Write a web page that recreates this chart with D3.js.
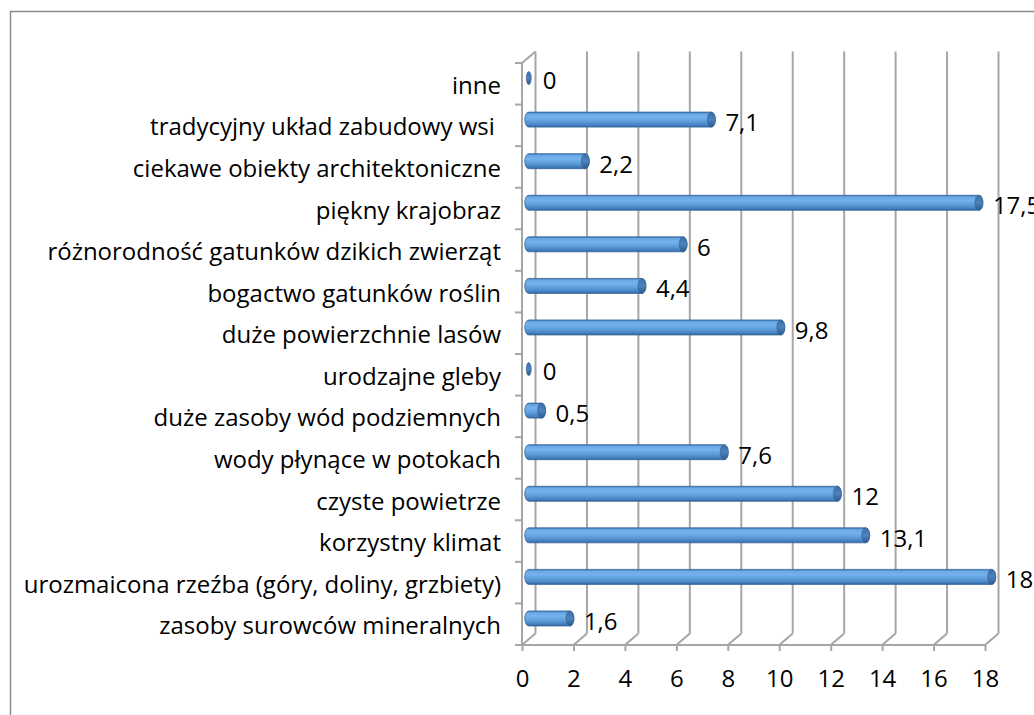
<!DOCTYPE html>
<html>
<head>
<meta charset="utf-8">
<script src="https://cdn.jsdelivr.net/npm/d3@7"></script>
<style>
  body { margin: 0; background: white; }
  text { font-family: "Open Sans", sans-serif; fill: #000; }
</style>
</head>
<body>
<svg id="chart"></svg>
<script>
// categories top to bottom, as shown
var categories = [
  "inne",
  "tradycyjny układ zabudowy wsi ",
  "ciekawe obiekty architektoniczne",
  "piękny krajobraz",
  "różnorodność gatunków dzikich zwierząt",
  "bogactwo gatunków roślin",
  "duże powierzchnie lasów",
  "urodzajne gleby",
  "duże zasoby wód podziemnych",
  "wody płynące w potokach",
  "czyste powietrze",
  "korzystny klimat",
  "urozmaicona rzeźba (góry, doliny, grzbiety)",
  "zasoby surowców mineralnych"
];
var values = [0, 7.1, 2.2, 17.5, 6, 4.4, 9.8, 0, 0.5, 7.6, 12, 13.1, 18, 1.6];
var ticks = [0, 2, 4, 6, 8, 10, 12, 14, 16, 18];

var W = 1034, H = 715;
var depth = {dx: 13.5, dy: -11.5};   // 3d offset of the back wall
var gridColor = "#a6a6a6";

var svg = d3.select("#chart").attr("width", W).attr("height", H);

// pick a font size so the longest label is about as wide as in the original
var probe = svg.append("text").style("font-size", "20px")
  .text("urozmaicona rzeźba (góry, doliny, grzbiety)");
var fontSize = Math.min(24, 20 * 480 / probe.node().getComputedTextLength());
probe.remove();

var x = d3.scaleLinear().domain([0, 18]).range([522, 985]);
var y = d3.scaleBand().domain(categories).range([63, 645]);

// outer frame (only left and top visible)
svg.append("path")
  .attr("d", "M10.5," + H + " L10.5,11.5 L" + W + ",11.5")
  .attr("fill", "none").attr("stroke", "#8c8c8c").attr("stroke-width", 1.5);

var defs = svg.append("defs");
var grad = defs.append("linearGradient").attr("id", "cyl")
  .attr("x1", 0).attr("y1", 0).attr("x2", 0).attr("y2", 1);
[["0%", "#3b70aa"], ["12%", "#6aa9e6"], ["35%", "#74b2ee"], ["65%", "#5b9bd8"], ["88%", "#4580c0"], ["100%", "#2f5f95"]]
  .forEach(function(s) { grad.append("stop").attr("offset", s[0]).attr("stop-color", s[1]); });
var capGrad = defs.append("linearGradient").attr("id", "cap")
  .attr("x1", 0).attr("y1", 0).attr("x2", 0).attr("y2", 1);
[["0%", "#3d6fa5"], ["50%", "#4d82bd"], ["100%", "#2d5a8c"]]
  .forEach(function(s) { capGrad.append("stop").attr("offset", s[0]).attr("stop-color", s[1]); });

var g = svg.append("g");

// back wall gridlines
g.selectAll("line.grid").data(ticks).enter().append("line")
  .attr("class", "grid")
  .attr("x1", d => x(d) + depth.dx).attr("x2", d => x(d) + depth.dx)
  .attr("y1", y.range()[0] + depth.dy).attr("y2", y.range()[1] + depth.dy)
  .attr("stroke", gridColor).attr("stroke-width", 2);

// floor diagonals
g.selectAll("line.floor").data(ticks).enter().append("line")
  .attr("x1", d => x(d)).attr("y1", y.range()[1])
  .attr("x2", d => x(d) + depth.dx).attr("y2", y.range()[1] + depth.dy)
  .attr("stroke", gridColor).attr("stroke-width", 2);

// left side wall: front edge + top diagonal
g.append("line")
  .attr("x1", x(0)).attr("x2", x(0)).attr("y1", y.range()[0]).attr("y2", y.range()[1])
  .attr("stroke", gridColor).attr("stroke-width", 2);
g.append("line")
  .attr("x1", x(0)).attr("y1", y.range()[0])
  .attr("x2", x(0) + depth.dx).attr("y2", y.range()[0] + depth.dy)
  .attr("stroke", gridColor).attr("stroke-width", 2);
// floor front edge
g.append("line")
  .attr("x1", x(0)).attr("x2", x(18)).attr("y1", y.range()[1]).attr("y2", y.range()[1])
  .attr("stroke", gridColor).attr("stroke-width", 2);

// bottom axis
var xAxis = svg.append("g")
  .attr("transform", "translate(0," + y.range()[1] + ")")
  .call(d3.axisBottom(x).tickValues(ticks).tickSize(6).tickPadding(19));
xAxis.select(".domain").remove();
xAxis.selectAll(".tick line").attr("stroke", gridColor).attr("stroke-width", 2);
xAxis.selectAll(".tick text").style("font-size", fontSize + "px").style("font-family", "'Open Sans', sans-serif");

// left axis (category labels)
var yAxis = svg.append("g")
  .attr("transform", "translate(" + x(0) + ",0)")
  .call(d3.axisLeft(y).tickSize(0).tickPadding(21));
yAxis.select(".domain").remove();
yAxis.selectAll(".tick text")
  .style("font-size", fontSize + "px").style("font-family", "'Open Sans', sans-serif")
  .style("white-space", "pre").attr("dy", "0.42em");

// tick marks at band boundaries
var bounds = categories.map(c => y(c)).concat([y.range()[1]]);
svg.selectAll("line.ytick").data(bounds).enter().append("line")
  .attr("x1", x(0) - 7).attr("x2", x(0))
  .attr("y1", d => d).attr("y2", d => d)
  .attr("stroke", gridColor).attr("stroke-width", 2);

// bars (cylinders at mid depth)
var barH = 15, capRx = 4;
var mid = {dx: depth.dx / 2, dy: depth.dy / 2};
var rows = categories.map((c, i) => ({cat: c, val: values[i]}));
var bars = svg.selectAll("g.bar").data(rows).enter().append("g")
  .attr("class", "bar")
  .attr("transform", d => "translate(" + mid.dx + "," + (y(d.cat) + y.bandwidth() / 2 + mid.dy) + ")");

bars.filter(d => d.val > 0).append("path")
  .attr("d", function(d) {
    var x0 = x(0), x1 = x(d.val), r = barH / 2;
    return "M" + x0 + "," + (-r) + " L" + x1 + "," + (-r) +
      " A" + capRx + "," + r + " 0 0 1 " + x1 + "," + r +
      " L" + x0 + "," + r +
      " A" + capRx + "," + r + " 0 0 1 " + x0 + "," + (-r) + "Z";
  })
  .attr("fill", "url(#cyl)").attr("stroke", "#3a6a9e").attr("stroke-width", 0.8);

bars.append("ellipse")
  .attr("cx", d => x(d.val)).attr("cy", 0)
  .attr("rx", d => d.val > 0 ? capRx : 2.5).attr("ry", d => d.val > 0 ? barH / 2 : barH / 2 - 1)
  .attr("fill", "url(#cap)").attr("stroke", "#345f90").attr("stroke-width", 0.6);

// value labels
bars.append("text")
  .attr("x", d => x(d.val) + 14).attr("y", 3).attr("dy", "0.35em")
  .style("font-size", fontSize + "px")
  .text(d => String(d.val).replace(".", ","));
</script>
</body>
</html>
